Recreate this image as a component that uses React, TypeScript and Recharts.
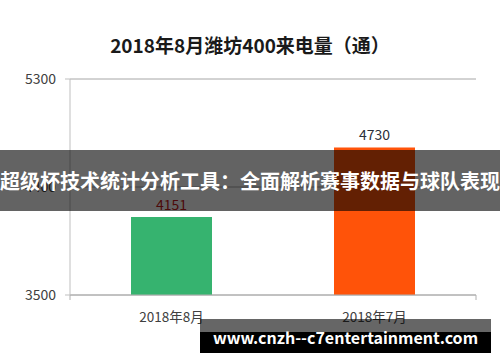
import { BarChart, Bar, XAxis, YAxis, CartesianGrid, Cell, LabelList } from "recharts";

const categories = ["2018年8月", "2018年7月"];
const calls = [4151, 4730];
const barColors = ["#36b36f", "#ff5309"];
const labelColors = ["#c41a1a", "#2b2f3a"];
const yTicks = [3500, 4400, 5300];

const data = categories.map((name, i) => ({ name, calls: calls[i], idx: i }));

const FONT = '"Noto Sans CJK SC", "Noto Sans", sans-serif';

const ValueLabel = (props: any) => {
  const { x, y, width, value, index } = props;
  return (
    <text
      x={x + width / 2}
      y={y - 7}
      textAnchor="middle"
      fontSize={14}
      fontFamily={FONT}
      fill={labelColors[index]}
    >
      {value}
    </text>
  );
};

export default function App() {
  return (
    <div
      style={{
        position: "fixed",
        top: 0,
        left: 0,
        width: 500,
        height: 362,
        background: "#fff",
        fontFamily: FONT,
        overflow: "hidden",
      }}
    >
      <div
        style={{
          position: "absolute",
          top: 32,
          width: 500,
          textAlign: "center",
          fontSize: 19,
          fontWeight: 700,
          color: "#1a1a1a",
          lineHeight: "26px",
        }}
      >
        2018年8月潍坊400来电量（通）
      </div>
      <BarChart
        width={500}
        height={362}
        data={data}
        margin={{ top: 79, right: 24, left: 10, bottom: 31 }}
        barCategoryGap={61}
      >
        <CartesianGrid xAxisId="a_edges" vertical={false} stroke="#a6a6a6" />
        {/* boundary tick marks like the spreadsheet original */}
        <XAxis
          xAxisId="a_edges"
          type="number"
          domain={[0, 2]}
          ticks={[0, 1, 2]}
          tickFormatter={() => ""}
          stroke="#b0b0b0"
          tickSize={5}
          height={6}
        />
        <XAxis
          xAxisId="b_cat"
          dataKey="name"
          axisLine={false}
          tickLine={false}
          height={30}
          tick={{ fontSize: 13.5, fill: "#404040", fontFamily: FONT }}
          tickMargin={5}
        />
        <YAxis
          domain={[3500, 5300]}
          ticks={yTicks}
          width={60}
          stroke="#bfbfbf"
          tickSize={5}
          tickMargin={9}
          tick={{ fontSize: 14, fill: "#404040", fontFamily: FONT }}
        />
        <Bar dataKey="calls" xAxisId="b_cat" isAnimationActive={false}>
          {data.map((d) => (
            <Cell key={d.name} fill={barColors[d.idx]} />
          ))}
          <LabelList dataKey="calls" content={ValueLabel} />
        </Bar>
      </BarChart>
      <div
        style={{
          position: "absolute",
          top: 150,
          left: 0,
          width: 500,
          height: 61,
          background: "rgba(0,0,0,0.61)",
          color: "#fff",
          fontSize: 20,
          fontWeight: 700,
          lineHeight: "61px",
          textAlign: "center",
          whiteSpace: "nowrap",
        }}
      >
        超级杯技术统计分析工具：全面解析赛事数据与球队表现
      </div>
      <div
        style={{
          position: "absolute",
          top: 319,
          left: 200,
          width: 291,
          height: 34,
          background: "linear-gradient(rgba(0,0,0,0.6) 0, rgba(0,0,0,0.6) 13px, #000 13px)",
          color: "#fff",
          fontSize: 16,
          fontWeight: 700,
          lineHeight: "36px",
          textAlign: "center",
          whiteSpace: "nowrap",
        }}
      >
        www.cnzh--c7entertainment.com
      </div>
    </div>
  );
}
